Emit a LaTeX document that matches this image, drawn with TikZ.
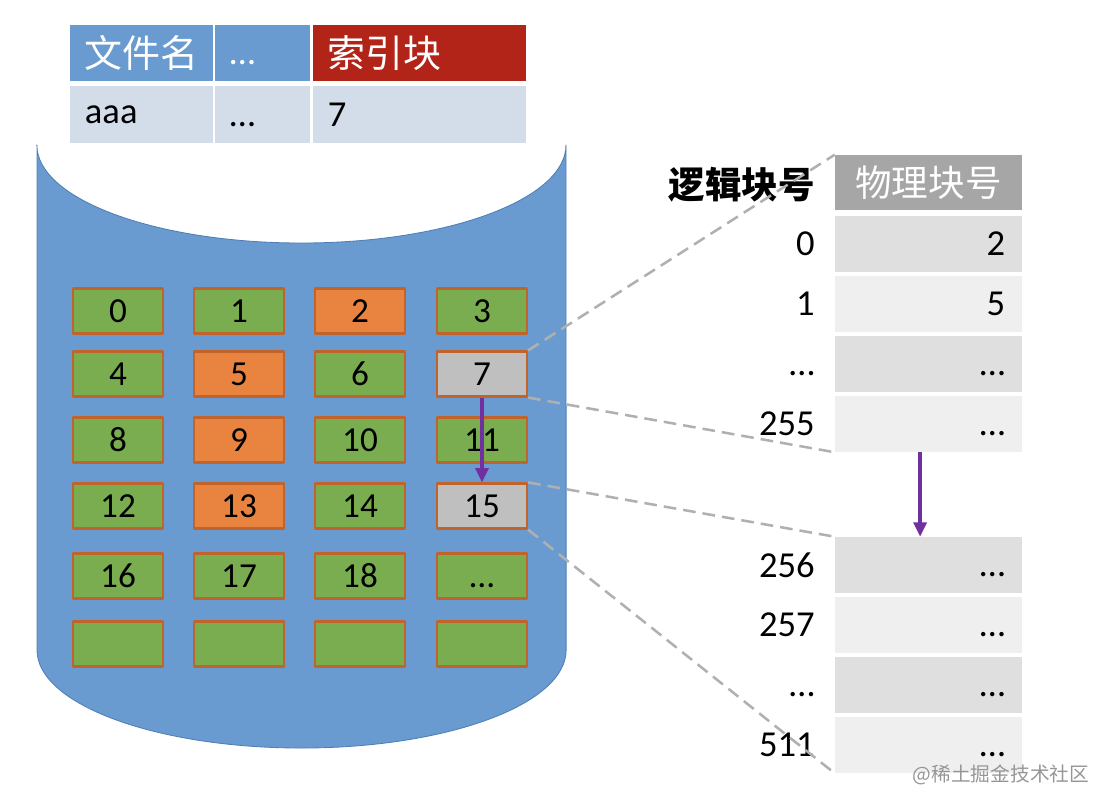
\documentclass[tikz,border=0pt]{standalone}
\usepackage{fontspec}
\setmainfont{Carlito}
\newfontfamily\cjk{Noto Sans CJK SC}
\usepackage{tikz}
\usetikzlibrary{arrows.meta}
\definecolor{fsDisk}{HTML}{6A9BD0}
\definecolor{fsDiskEdge}{HTML}{4F7FB5}
\definecolor{fsRed}{HTML}{B22418}
\definecolor{fsPale}{HTML}{D3DDEA}
\definecolor{fsGreen}{HTML}{7AAD4F}
\definecolor{fsOrange}{HTML}{E8843F}
\definecolor{fsGray}{HTML}{BFBFBF}
\definecolor{fsEdge}{HTML}{C0642C}
\definecolor{fsPurple}{HTML}{7030A0}
\definecolor{fsHead}{HTML}{A6A6A6}
\definecolor{fsRowA}{HTML}{DFDFDF}
\definecolor{fsRowB}{HTML}{EFEFEF}
\definecolor{fsDash}{HTML}{B0B0B0}
\tikzset{
  fs diagram/.style={x=0.025cm, y=-0.025cm,
    font=\fontsize{25}{30}\selectfont, line cap=butt, line join=round},
  fs disk/.style={fill=fsDisk, draw=fsDiskEdge, line width=0.6pt},
  fs cell/.style={minimum height=1.4cm, inner xsep=0.375cm, inner ysep=0pt,
    align=left, font=\fontsize{26}{30}\selectfont},
  fs head/.style={fs cell, fill=fsDisk, text=white},
  fs key head/.style={fs cell, fill=fsRed, text=white},
  fs value/.style={fs cell, fill=fsPale},
  fs block/.style={draw=fsEdge, line width=1.5pt, fill=fsGreen,
    minimum width=2.25cm, minimum height=1.125cm, inner sep=0pt},
  fs used/.style={fs block, fill=fsOrange},
  fs index/.style={fs block, fill=fsGray},
  fs arrow/.style={-{Triangle[length=3.6mm, width=3.2mm]}, draw=fsPurple,
    line width=3pt},
  fs phys head/.style={fill=fsHead, text=white, minimum width=4.675cm,
    minimum height=1.375cm, inner sep=0pt, font=\cjk\fontsize{26}{30}\selectfont},
  fs row/.style={fill=fsRowA, minimum height=1.4cm, text width=3.825cm,
    inner xsep=0.425cm, inner ysep=0pt, align=right,
    font=\fontsize{26}{30}\selectfont},
  fs row light/.style={fs row, fill=fsRowB},
  fs logic/.style={anchor=east, inner sep=0pt, font=\fontsize{26}{30}\selectfont},
  fs zoom/.style={draw=fsDash, line width=1.8pt, dash pattern=on 9pt off 5pt},
  fs mark/.style={text=fsDash!85!black, font=\cjk\fontsize{14}{16}\selectfont}
}
\newcommand{\fsdots}{\vphantom{0}…}
\begin{document}
\begin{tikzpicture}[fs diagram]
\useasboundingbox (0,0) rectangle (1104,808);
% disk
\path[fs disk] (37,145) -- (37,650)
  arc[start angle=180, end angle=360, x radius=6.6125cm, y radius=2.45cm]
  -- (566,145)
  arc[start angle=0, end angle=-180, x radius=6.6125cm, y radius=2.45cm]
  -- cycle;
% directory entry
\node[fs head, text width=2.825cm] (nameHead) at (141.5,53) {\cjk\fontsize{27}{30}\selectfont 文件名};
\node[fs head, text width=1.625cm] (dotsHead) at (262.5,53) {\fsdots};
\node[fs key head, text width=4.575cm] (indexHead) at (419.5,53) {\cjk\fontsize{27}{30}\selectfont 索引块};
\node[fs value, text width=2.825cm] (nameVal) at (141.5,114.5) {aaa};
\node[fs value, text width=1.625cm] (dotsVal) at (262.5,114.5) {\fsdots};
\node[fs value, text width=4.575cm] (indexVal) at (419.5,114.5) {7};
% blocks on disk
\node[fs block] (b0) at (118,311) {0};
\node[fs block] (b1) at (239,311) {1};
\node[fs used] (b2) at (360,311) {2};
\node[fs block] (b3) at (482,311) {3};
\node[fs block] (b4) at (118,374) {4};
\node[fs used] (b5) at (239,374) {5};
\node[fs block] (b6) at (360,374) {6};
\node[fs index] (b7) at (482,374) {7};
\node[fs block] (b8) at (118,440) {8};
\node[fs used] (b9) at (239,440) {9};
\node[fs block] (b10) at (360,440) {10};
\node[fs block] (b11) at (482,440) {11};
\node[fs block] (b12) at (118,506) {12};
\node[fs used] (b13) at (239,506) {13};
\node[fs block] (b14) at (360,506) {14};
\node[fs index] (b15) at (482,506) {15};
\node[fs block] (b16) at (118,576) {16};
\node[fs block] (b17) at (239,576) {17};
\node[fs block] (b18) at (360,576) {18};
\node[fs block] (bMore) at (482,576) {\fsdots};
\node[fs block] (e1) at (118,644) {};
\node[fs block] (e2) at (239,644) {};
\node[fs block] (e3) at (360,644) {};
\node[fs block] (e4) at (482,644) {};
\draw[fs arrow] (b7) -- (b15);
% index block, first part
\node[fs logic, font=\cjk\bfseries\fontsize{26}{30}\selectfont] (logicHead) at (815,185) {逻辑块号};
\node[fs phys head] (physHead) at (928.5,182.5) {物理块号};
\node[fs row] (r0) at (928.5,244) {2};
\node[fs row light] (r1) at (928.5,304) {5};
\node[fs row] (rDots) at (928.5,364) {\fsdots};
\node[fs row light] (r255) at (928.5,424) {\fsdots};
\node[fs logic] (l0) at (815,244) {0};
\node[fs logic] (l1) at (815,304) {1};
\node[fs logic] (lDots) at (815,364) {\fsdots};
\node[fs logic] (l255) at (815,424) {255};
% index block, second part
\node[fs row] (r256) at (928.5,565) {\fsdots};
\node[fs row light] (r257) at (928.5,625) {\fsdots};
\node[fs row] (rDots2) at (928.5,685) {\fsdots};
\node[fs row light] (r511) at (928.5,745) {\fsdots};
\node[fs logic] (l256) at (815,565) {256};
\node[fs logic] (l257) at (815,625) {257};
\node[fs logic] (lDots2) at (815,685) {\fsdots};
\node[fs logic] (l511) at (815,745) {511};
\draw[fs arrow] ([xshift=-0.21cm]r255.south) -- ([xshift=-0.21cm]r256.north);
% zoom lines
\draw[fs zoom] (b7.north east) -- (physHead.north west);
\draw[fs zoom] (b7.south east) -- (r255.south west);
\draw[fs zoom] (b15.north east) -- (r256.north west);
\draw[fs zoom] (b15.south east) -- (r511.south west);
\node[fs mark] (mark) at (1001,775) {@稀土掘金技术社区};
\end{tikzpicture}
\end{document}
